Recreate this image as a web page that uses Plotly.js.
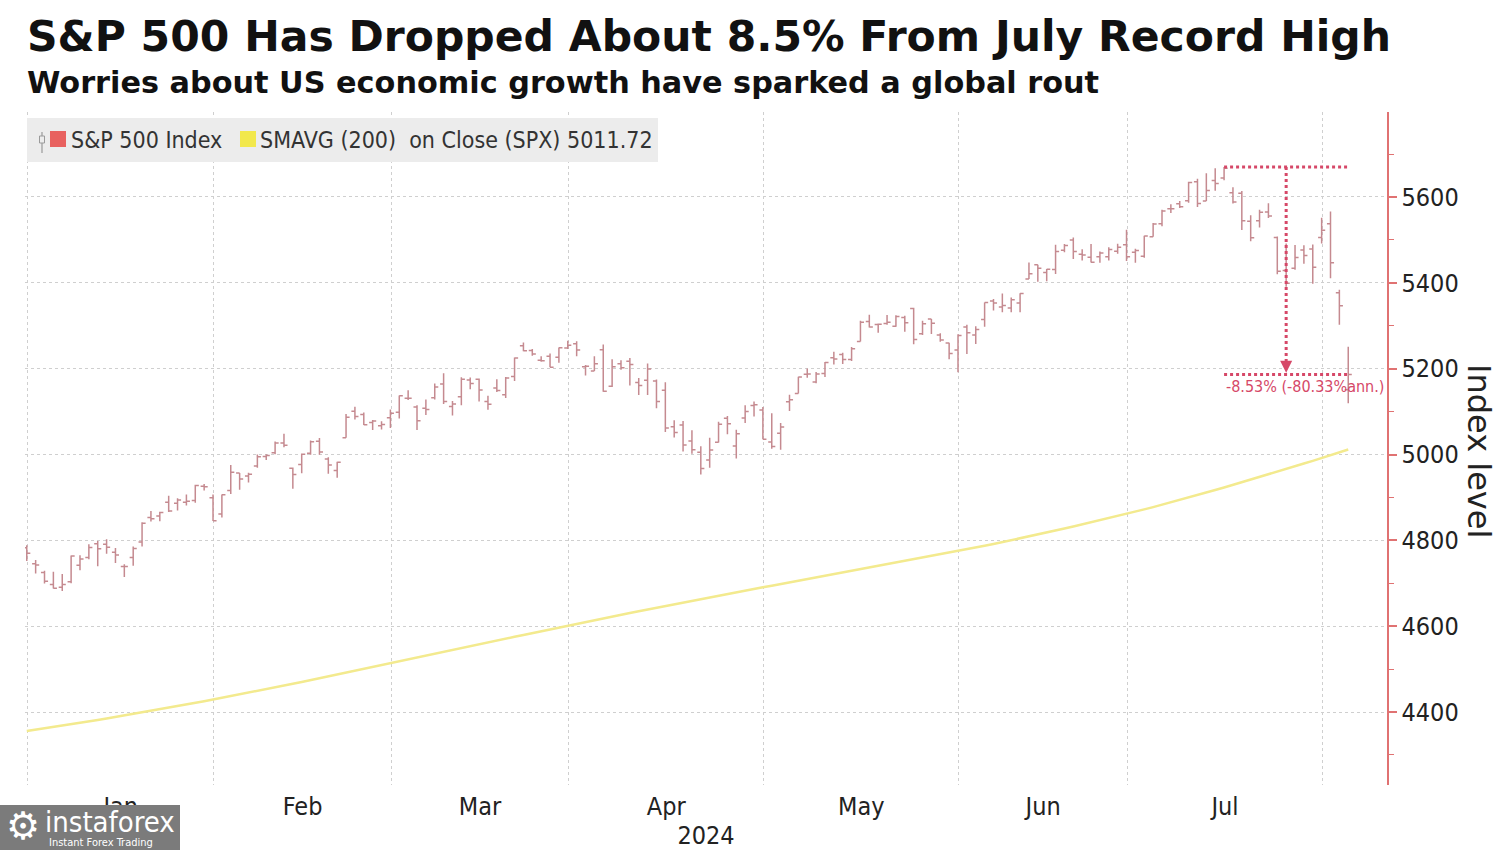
<!DOCTYPE html>
<html>
<head>
<meta charset="utf-8">
<script src="https://cdn.plot.ly/plotly-3.0.1.min.js"></script>
<style>
html,body{margin:0;padding:0;background:#ffffff;}
#chart{width:1500px;height:850px;}
</style>
</head>
<body>
<div id="chart"></div>
<script>
// ---------------- DATA ----------------
const dates = [
  "2023-12-29",
  "2024-01-02","2024-01-03","2024-01-04","2024-01-05","2024-01-08","2024-01-09","2024-01-10","2024-01-11","2024-01-12","2024-01-16","2024-01-17","2024-01-18","2024-01-19","2024-01-22","2024-01-23","2024-01-24","2024-01-25","2024-01-26","2024-01-29","2024-01-30","2024-01-31",
  "2024-02-01","2024-02-02","2024-02-05","2024-02-06","2024-02-07","2024-02-08","2024-02-09","2024-02-12","2024-02-13","2024-02-14","2024-02-15","2024-02-16","2024-02-20","2024-02-21","2024-02-22","2024-02-23","2024-02-26","2024-02-27","2024-02-28","2024-02-29",
  "2024-03-01","2024-03-04","2024-03-05","2024-03-06","2024-03-07","2024-03-08","2024-03-11","2024-03-12","2024-03-13","2024-03-14","2024-03-15","2024-03-18","2024-03-19","2024-03-20","2024-03-21","2024-03-22","2024-03-25","2024-03-26","2024-03-27","2024-03-28",
  "2024-04-01","2024-04-02","2024-04-03","2024-04-04","2024-04-05","2024-04-08","2024-04-09","2024-04-10","2024-04-11","2024-04-12","2024-04-15","2024-04-16","2024-04-17","2024-04-18","2024-04-19","2024-04-22","2024-04-23","2024-04-24","2024-04-25","2024-04-26","2024-04-29","2024-04-30",
  "2024-05-01","2024-05-02","2024-05-03","2024-05-06","2024-05-07","2024-05-08","2024-05-09","2024-05-10","2024-05-13","2024-05-14","2024-05-15","2024-05-16","2024-05-17","2024-05-20","2024-05-21","2024-05-22","2024-05-23","2024-05-24","2024-05-28","2024-05-29","2024-05-30","2024-05-31",
  "2024-06-03","2024-06-04","2024-06-05","2024-06-06","2024-06-07","2024-06-10","2024-06-11","2024-06-12","2024-06-13","2024-06-14","2024-06-17","2024-06-18","2024-06-20","2024-06-21","2024-06-24","2024-06-25","2024-06-26","2024-06-27","2024-06-28",
  "2024-07-01","2024-07-02","2024-07-03","2024-07-05","2024-07-08","2024-07-09","2024-07-10","2024-07-11","2024-07-12","2024-07-15","2024-07-16","2024-07-17","2024-07-18","2024-07-19","2024-07-22","2024-07-23","2024-07-24","2024-07-25","2024-07-26","2024-07-29","2024-07-30","2024-07-31",
  "2024-08-01","2024-08-02","2024-08-05"
];

const opens = [
  4782.88,
  4745.20,4725.07,4697.42,4690.57,4703.70,4741.93,4759.94,4792.13,4791.18,4772.35,4739.13,4760.10,4796.28,4853.42,4856.80,4888.56,4886.66,4888.91,4892.95,4925.89,4899.19,
  4861.11,4916.06,4957.19,4950.16,4973.05,4995.16,5004.17,5026.83,4967.94,4976.44,5003.14,5031.13,4989.32,4963.03,5038.83,5100.92,5093.00,5074.60,5067.20,5085.36,
  5098.51,5130.99,5110.52,5108.03,5132.38,5164.46,5111.96,5134.30,5173.49,5175.14,5123.31,5154.77,5139.09,5181.69,5253.43,5242.48,5219.52,5228.85,5226.31,5248.03,
  5257.97,5204.29,5194.37,5244.05,5158.95,5211.37,5217.03,5167.88,5172.95,5171.51,5149.67,5064.59,5068.97,5031.52,5005.44,4987.33,5028.85,5084.65,5019.88,5084.86,5114.13,5103.78,
  5029.03,5049.32,5122.78,5142.42,5187.20,5168.98,5189.03,5225.49,5233.08,5221.10,5263.26,5310.07,5303.10,5305.35,5298.69,5319.28,5340.26,5281.45,5315.91,5278.73,5259.77,5243.21,
  5297.15,5278.24,5314.48,5357.80,5343.81,5341.22,5353.00,5409.13,5441.93,5424.08,5431.11,5476.15,5499.99,5466.77,5459.58,5460.73,5460.71,5473.59,5488.48,
  5471.08,5461.84,5507.44,5537.91,5572.75,5584.24,5591.26,5635.21,5590.76,5638.16,5644.09,5610.07,5608.56,5543.37,5544.54,5565.30,5505.84,5428.70,5433.67,5476.55,5478.73,5505.59,
  5537.84,5376.63,5151.14
];

const highs = [
  4788.43,
  4754.33,4729.29,4726.78,4721.49,4764.54,4765.47,4790.80,4798.50,4802.40,4782.34,4744.23,4785.79,4842.07,4868.41,4866.48,4903.68,4898.15,4906.69,4929.31,4931.09,4906.75,
  4906.97,4975.29,4957.19,4957.77,4999.89,5000.40,5030.06,5048.39,4969.95,5002.52,5032.72,5038.70,4993.71,4983.21,5094.39,5111.06,5097.66,5080.69,5077.37,5104.99,
  5137.70,5149.67,5114.54,5127.97,5165.62,5189.26,5124.66,5179.87,5179.14,5176.85,5136.86,5175.60,5180.31,5226.19,5261.10,5246.09,5229.09,5235.16,5249.19,5264.85,
  5263.95,5208.34,5228.75,5256.59,5222.18,5219.57,5224.81,5178.43,5211.78,5175.03,5168.43,5079.84,5077.96,5056.66,5019.02,5038.84,5076.12,5089.48,5057.75,5114.62,5123.49,5110.83,
  5096.12,5073.21,5139.12,5181.00,5200.23,5191.95,5215.30,5239.66,5237.26,5250.37,5311.76,5325.49,5305.45,5325.32,5324.32,5323.18,5341.88,5311.65,5315.91,5282.27,5260.21,5280.33,
  5302.11,5298.80,5354.16,5362.35,5375.08,5365.79,5375.95,5447.25,5441.93,5432.39,5488.50,5490.38,5505.53,5478.31,5490.66,5472.88,5483.14,5490.81,5523.64,
  5479.55,5509.69,5539.27,5570.33,5583.11,5590.75,5635.39,5642.45,5655.56,5666.94,5669.67,5622.49,5614.05,5557.50,5570.36,5585.34,5508.04,5491.59,5488.32,5487.74,5489.46,5551.51,
  5566.16,5383.89,5250.89
];

const lows = [
  4751.99,
  4722.67,4699.71,4687.53,4682.11,4699.82,4730.35,4756.20,4739.58,4768.98,4747.12,4714.82,4740.57,4785.87,4844.05,4844.37,4865.94,4869.34,4881.47,4887.40,4916.27,4845.15,
  4853.52,4907.99,4918.09,4934.88,4969.05,4987.09,5000.34,5016.83,4920.31,4956.45,4999.44,4999.52,4955.02,4946.00,5038.83,5081.46,5068.91,5057.29,5058.35,5061.89,
  5083.89,5127.18,5056.82,5092.22,5128.21,5117.50,5091.14,5114.48,5151.88,5123.30,5104.35,5145.47,5131.59,5171.55,5240.66,5229.87,5216.09,5203.42,5213.92,5245.82,
  5229.20,5184.05,5194.37,5146.06,5157.21,5197.35,5160.78,5138.70,5138.77,5107.94,5052.47,5039.83,5007.25,5001.89,4953.56,4969.40,5027.96,5047.02,4990.58,5073.14,5088.65,5035.31,
  5013.45,5011.05,5101.22,5142.42,5178.96,5165.86,5180.41,5209.68,5211.16,5217.98,5263.26,5296.19,5283.59,5302.40,5297.87,5286.01,5256.93,5278.39,5280.89,5262.70,5222.10,5191.68,
  5234.32,5257.63,5297.64,5335.36,5331.33,5331.52,5331.33,5409.13,5402.51,5403.75,5420.40,5471.32,5455.56,5452.03,5447.59,5446.56,5451.87,5467.54,5451.12,
  5446.53,5458.43,5507.42,5531.63,5562.51,5574.57,5586.44,5576.53,5590.44,5614.75,5639.02,5584.81,5522.81,5497.04,5529.04,5550.90,5419.98,5390.95,5430.70,5444.44,5397.71,5491.34,
  5410.42,5302.03,5119.26
];

const closes = [
  4769.83,
  4742.83,4704.81,4688.68,4697.24,4763.54,4756.50,4783.45,4780.24,4783.83,4765.98,4739.21,4780.94,4839.81,4850.43,4864.60,4868.55,4894.16,4890.97,4927.93,4924.97,4845.65,
  4906.19,4958.61,4942.81,4954.23,4995.06,4997.91,5026.61,5021.84,4953.17,5000.62,5029.73,5005.57,4975.51,4981.80,5087.03,5088.80,5069.53,5078.18,5069.76,5096.27,
  5137.08,5130.95,5078.65,5104.76,5157.36,5123.69,5117.94,5175.27,5165.31,5150.48,5117.09,5149.42,5178.51,5224.62,5241.53,5234.18,5218.19,5203.58,5248.49,5254.35,
  5243.77,5205.81,5211.49,5147.21,5204.34,5202.39,5209.91,5160.64,5199.06,5123.41,5061.82,5051.41,5022.21,5011.12,4967.23,5010.60,5070.55,5071.63,5048.42,5099.96,5116.17,5035.69,
  5018.39,5064.20,5127.79,5180.74,5187.70,5187.67,5214.08,5222.68,5221.42,5246.68,5308.15,5297.10,5303.27,5308.13,5321.41,5307.01,5267.84,5304.72,5306.04,5266.95,5235.48,5277.51,
  5283.40,5291.34,5354.03,5352.96,5346.99,5360.79,5375.32,5421.03,5433.74,5431.60,5473.23,5487.03,5473.17,5464.62,5447.87,5469.30,5477.90,5482.87,5460.48,
  5475.09,5509.01,5537.02,5567.19,5572.85,5576.98,5633.91,5584.54,5615.35,5631.22,5667.20,5588.27,5544.59,5505.00,5564.41,5555.74,5427.13,5399.22,5459.10,5463.54,5436.44,5522.30,
  5446.68,5346.56,5186.33
];

const sma200 = [
  4356.0,
  4359.0,4362.1,4365.2,4368.4,4371.6,4374.9,4378.2,4381.6,4385.0,4388.5,4392.0,4395.5,4399.1,4402.7,4406.4,4410.1,4413.8,4417.6,4421.4,4425.2,4429.1,
  4433.0,4437.0,4441.0,4445.1,4449.2,4453.3,4457.5,4461.7,4465.9,4470.1,4474.4,4478.7,4483.0,4487.3,4491.6,4496.0,4500.4,4504.8,4509.2,4513.6,
  4518.0,4522.4,4526.8,4531.2,4535.6,4540.0,4544.4,4548.8,4553.2,4557.6,4562.0,4566.4,4570.8,4575.2,4579.6,4584.0,4588.3,4592.6,4596.9,4601.2,
  4605.5,4609.8,4614.0,4618.2,4622.4,4626.6,4630.7,4634.8,4638.9,4643.0,4647.1,4651.1,4655.1,4659.1,4663.1,4667.1,4671.0,4674.9,4678.8,4682.7,4686.6,4690.5,
  4694.4,4698.2,4702.0,4705.8,4709.6,4713.4,4717.2,4721.0,4724.8,4728.6,4732.4,4736.2,4740.0,4743.8,4747.6,4751.4,4755.2,4759.0,4762.9,4766.8,4770.7,4774.7,
  4778.8,4783.0,4787.2,4791.5,4795.8,4800.2,4804.6,4809.1,4813.6,4818.2,4822.8,4827.5,4832.2,4837.0,4841.8,4846.7,4851.6,4856.6,4861.6,
  4866.8,4872.1,4877.5,4883.0,4888.6,4894.2,4899.9,4905.7,4911.5,4917.4,4923.3,4929.3,4935.3,4941.4,4947.5,4953.7,4959.9,4966.2,4972.5,4978.9,4985.3,4991.8,
  4998.3,5004.9,5011.72
];

const monthLabels = ["Jan","Feb","Mar","Apr","May","Jun","Jul","Aug"];
const yearLabel = "2024";
const titleText = "S&P 500 Has Dropped About 8.5% From July Record High";
const subtitleText = "Worries about US economic growth have sparked a global rout";
const seriesNames = ["S&P 500 Index", "SMAVG (200)  on Close (SPX)"];
const yAxisTitle = "Index level";

// ---------------- LAYOUT HELPERS ----------------
const W = 1500, H = 850;
const M = {l: 25, r: 113, t: 112, b: 65};
const px = x => (x - M.l) / (W - M.l - M.r);
const py = y => 1 - (y - M.t) / (H - M.t - M.b);

const NARROW = '"DejaVu Sans Condensed", "Liberation Sans Narrow", sans-serif';
const BOLD = '"DejaVu Sans", Verdana, sans-serif';
const BAR_COLOR = '#c58a90';
const SMA_COLOR = '#f3ea8e';
const AXIS_RED = '#e07272';
const ANN_RED = 'rgb(214,72,104)';
const GRID = '#cfcfcf';

// trading-day index as x
const idx = dates.map((d, i) => i);

// month boundaries (gridlines) and label centres, from the dates
const gridVals = [];
const gridMonths = [];
dates.forEach((d, i) => {
  if (!d.startsWith(yearLabel)) return;
  const m = +d.slice(5, 7);
  if (i === 0 || dates[i - 1].slice(5, 7) !== d.slice(5, 7)) {
    gridVals.push(i - 0.9);
    gridMonths.push(m);
  }
});
const labelVals = [], labelText = [];
for (let k = 0; k < gridVals.length - 1; k++) {
  labelVals.push((gridVals[k] + gridVals[k + 1]) / 2);
  labelText.push(monthLabels[gridMonths[k] - 1]);
}

// drawdown annotation from data
let peakIdx = 0;
highs.forEach((h, i) => { if (h > highs[peakIdx]) peakIdx = i; });
const lastIdx = closes.length - 1;
const peak = highs[peakIdx];
const lastClose = closes[lastIdx];
const ratio = lastClose / peak;
const calDays = (new Date(dates[lastIdx]) - new Date(dates[peakIdx])) / 86400000;
const pct = (ratio - 1) * 100;
const ann = (Math.pow(ratio, 365 / calDays) - 1) * 100;
const ddText = pct.toFixed(2) + '% (' + ann.toFixed(2) + '%ann.)';
const midIdx = (peakIdx + lastIdx) / 2;

const traces = [
  {
    type: 'scatter', mode: 'lines',
    x: idx, y: sma200,
    line: {color: SMA_COLOR, width: 2.5},
    hoverinfo: 'skip', showlegend: false
  },
  {
    type: 'ohlc',
    x: idx, open: opens, high: highs, low: lows, close: closes,
    increasing: {line: {color: BAR_COLOR, width: 1.5}},
    decreasing: {line: {color: BAR_COLOR, width: 1.5}},
    tickwidth: 0.4,
    hoverinfo: 'skip', showlegend: false
  }
];

const shapes = [
  // drawdown markers
  {type: 'line', xref: 'x', yref: 'y', x0: peakIdx, x1: lastIdx, y0: peak, y1: peak,
   line: {color: ANN_RED, width: 3, dash: 'dot'}},
  {type: 'line', xref: 'x', yref: 'y', x0: peakIdx, x1: lastIdx, y0: lastClose, y1: lastClose,
   line: {color: ANN_RED, width: 3, dash: 'dot'}},
  {type: 'line', xref: 'x', yref: 'y', x0: midIdx, x1: midIdx, y0: peak, y1: lastClose + 30,
   line: {color: ANN_RED, width: 3, dash: 'dot'}},
  // legend box
  {type: 'rect', xref: 'paper', yref: 'paper', x0: px(27), x1: px(658), y0: py(162), y1: py(118),
   fillcolor: '#ececec', line: {width: 0}, layer: 'above'},
  {type: 'rect', xref: 'paper', yref: 'paper', x0: px(50), x1: px(66), y0: py(147), y1: py(131),
   fillcolor: '#e8615f', line: {width: 0}, layer: 'above'},
  {type: 'rect', xref: 'paper', yref: 'paper', x0: px(240), x1: px(256), y0: py(147), y1: py(131),
   fillcolor: '#f2e84c', line: {width: 0}, layer: 'above'},
  {type: 'line', xref: 'paper', yref: 'paper', x0: px(42), x1: px(42), y0: py(153), y1: py(132),
   line: {color: '#9a9a9a', width: 1.2}, layer: 'above'},
  {type: 'rect', xref: 'paper', yref: 'paper', x0: px(39.5), x1: px(44.5), y0: py(143), y1: py(136),
   fillcolor: '#ececec', line: {color: '#9a9a9a', width: 1}, layer: 'above'},
  // watermark box
  {type: 'rect', xref: 'paper', yref: 'paper', x0: px(0), x1: px(180), y0: py(850), y1: py(805),
   fillcolor: '#7b7b7b', line: {width: 0}, layer: 'above'}
];

const annotations = [
  {xref: 'paper', yref: 'paper', x: px(25), y: py(37), xanchor: 'left', yanchor: 'middle',
   text: titleText, showarrow: false,
   font: {family: BOLD, size: 42.5, color: '#111111', weight: 'bold'}},
  {xref: 'paper', yref: 'paper', x: px(25), y: py(83), xanchor: 'left', yanchor: 'middle',
   text: subtitleText, showarrow: false,
   font: {family: BOLD, size: 30.3, color: '#111111', weight: 'bold'}},
  // legend texts
  {xref: 'paper', yref: 'paper', x: px(69), y: py(140), xanchor: 'left', yanchor: 'middle',
   text: seriesNames[0], showarrow: false, font: {family: NARROW, size: 23, color: '#333333'}},
  {xref: 'paper', yref: 'paper', x: px(258), y: py(140), xanchor: 'left', yanchor: 'middle',
   text: seriesNames[1] + ' ' + sma200[sma200.length - 1].toFixed(2), showarrow: false,
   font: {family: NARROW, size: 23, color: '#333333'}},
  // y-axis title
  {xref: 'paper', yref: 'paper', x: px(1479), y: py(451), xanchor: 'center', yanchor: 'middle',
   text: yAxisTitle, textangle: 90, showarrow: false,
   font: {family: '"DejaVu Sans", sans-serif', size: 32, color: '#222222'}},
  // drawdown label
  {xref: 'x', yref: 'y', x: peakIdx, y: lastClose, xanchor: 'left', yanchor: 'middle', yshift: -12,
   text: ddText, showarrow: false, font: {family: NARROW, size: 16, color: ANN_RED}},
  // arrow head of vertical marker
  {xref: 'x', yref: 'y', x: midIdx, y: lastClose + 4, ax: midIdx, ay: lastClose + 34,
   axref: 'x', ayref: 'y', text: '', showarrow: true, arrowhead: 2, arrowsize: 1.2,
   arrowwidth: 2, arrowcolor: ANN_RED},
  // watermark
  {xref: 'paper', yref: 'paper', x: px(23), y: py(826), xanchor: 'center', yanchor: 'middle',
   text: '\u2699', showarrow: false, font: {family: '"DejaVu Sans", sans-serif', size: 38, color: '#ffffff'}},
  {xref: 'paper', yref: 'paper', x: px(43), y: py(822), xanchor: 'left', yanchor: 'middle',
   text: 'instaforex', showarrow: false, font: {family: NARROW, size: 29, color: '#ffffff'}},
  {xref: 'paper', yref: 'paper', x: px(47), y: py(842), xanchor: 'left', yanchor: 'middle',
   text: 'Instant Forex Trading', showarrow: false, font: {family: NARROW, size: 11, color: '#ffffff'}}
];

const layout = {
  width: W, height: H,
  margin: M,
  paper_bgcolor: '#ffffff', plot_bgcolor: '#ffffff',
  showlegend: false,
  xaxis: {
    range: [-0.2, 153.37],
    rangeslider: {visible: false},
    tickmode: 'array', tickvals: labelVals, ticktext: labelText,
    ticks: '', showgrid: false, zeroline: false, showline: false,
    tickfont: {family: NARROW, size: 25, color: '#222222'},
    ticklabelstandoff: 4,
    minor: {tickmode: 'array', tickvals: gridVals, showgrid: true, gridcolor: GRID,
            griddash: 'dot', gridwidth: 1, ticks: ''},
    title: {text: yearLabel, font: {family: NARROW, size: 25, color: '#222222'}, standoff: 4},
    fixedrange: true
  },
  yaxis: {
    side: 'right',
    range: [4230, 5798],
    tickmode: 'linear', tick0: 4400, dtick: 200,
    showline: true, linecolor: AXIS_RED, linewidth: 1.5,
    ticks: 'outside', ticklen: 8, tickwidth: 2, tickcolor: AXIS_RED,
    minor: {dtick: 100, ticks: 'outside', ticklen: 5, tickwidth: 1, tickcolor: AXIS_RED, showgrid: false},
    showgrid: true, gridcolor: GRID, griddash: 'dot', gridwidth: 1,
    zeroline: false,
    tickfont: {family: NARROW, size: 25, color: '#222222'},
    fixedrange: true
  },
  shapes: shapes,
  annotations: annotations
};

Plotly.newPlot('chart', traces, layout, {displayModeBar: false, staticPlot: true});
</script>
</body>
</html>
